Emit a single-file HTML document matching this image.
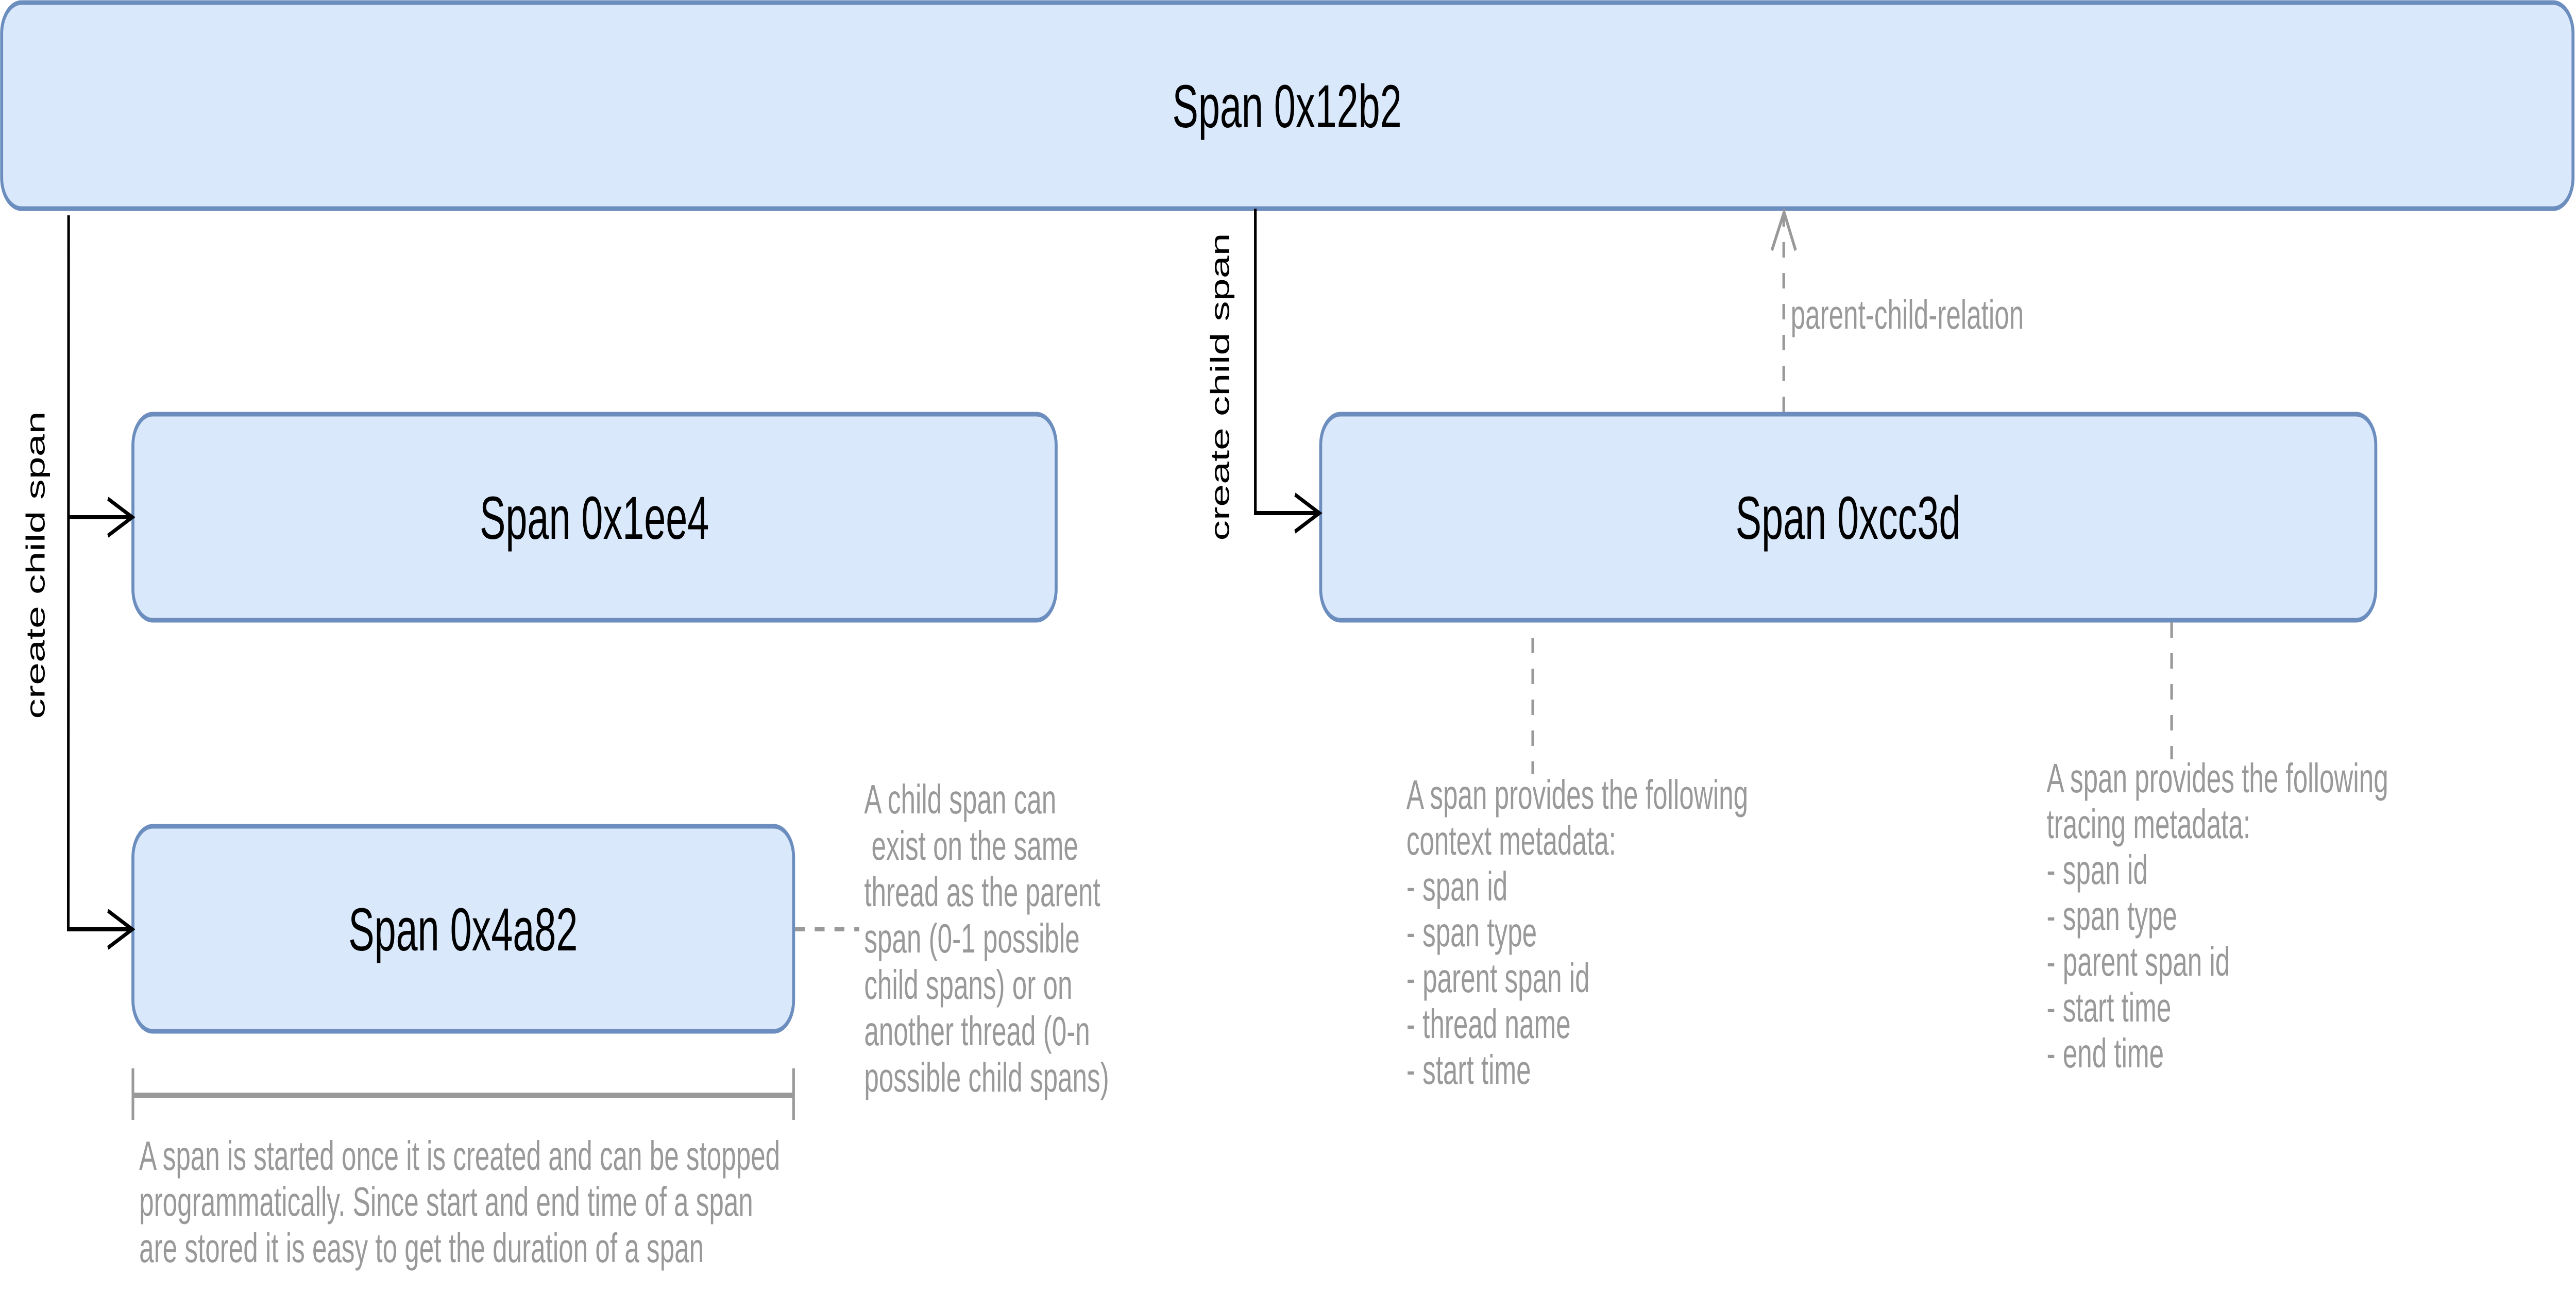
<!DOCTYPE html>
<html><head><meta charset="utf-8"><style>
html,body{margin:0;padding:0;background:#fff;width:100%;height:100%;overflow:hidden;}
svg{display:block;width:100vw;height:100vh;}
text{font-family:"Liberation Sans",Arial,sans-serif;}
.g{fill:#999999;font-size:80px;}
</style></head><body>
<svg viewBox="0 0 7810 2510" preserveAspectRatio="none" xmlns="http://www.w3.org/2000/svg">
<rect x="5" y="5" width="7796" height="400" rx="60" ry="60" fill="#dae8fc" stroke="#6c8ebf" stroke-width="9"/>
<rect x="403" y="804" width="2799" height="400" rx="60" ry="60" fill="#dae8fc" stroke="#6c8ebf" stroke-width="9"/>
<rect x="403" y="1604" width="2003" height="398" rx="60" ry="60" fill="#dae8fc" stroke="#6c8ebf" stroke-width="9"/>
<rect x="4004" y="804" width="3199" height="400" rx="60" ry="60" fill="#dae8fc" stroke="#6c8ebf" stroke-width="9"/>
<text x="3902" y="247" font-size="118" text-anchor="middle">Span 0x12b2</text>
<text x="1802" y="1046" font-size="118" text-anchor="middle">Span 0x1ee4</text>
<text x="1404" y="1845" font-size="118" text-anchor="middle">Span 0x4a82</text>
<text x="5603" y="1046" font-size="118" text-anchor="middle">Span 0xcc3d</text>

<g fill="none" stroke="#000" stroke-width="8">
<polyline points="208,418 207,1804 398,1804"/>
<line x1="207" y1="1004" x2="398" y2="1004"/>
<polyline points="327,968 401,1004 327,1040"/>
<polyline points="327,1768 401,1804 327,1840"/>
<polyline points="3806,405 3806,996 3998,996"/>
<polyline points="3926,960 4000,996 3926,1032"/>
</g>
<text transform="translate(135,1097) rotate(-90)" font-size="79" text-anchor="middle">create child span</text>
<text transform="translate(3726,751) rotate(-90)" font-size="79" text-anchor="middle">create child span</text>

<g fill="none" stroke="#999999" stroke-width="8">
<line x1="5408" y1="800" x2="5408" y2="420" stroke-dasharray="30 30"/>
<polyline points="5372,486 5409,412 5444,486"/>
<line x1="4647" y1="1238" x2="4647" y2="1503" stroke-dasharray="30 30"/>
<line x1="6584" y1="1208" x2="6584" y2="1474" stroke-dasharray="30 30"/>
<line x1="2410" y1="1804" x2="2605" y2="1804" stroke-dasharray="30 30"/>
<line x1="403" y1="2126" x2="2406" y2="2126" stroke-width="10"/>
<line x1="403" y1="2074" x2="403" y2="2174"/>
<line x1="2406" y1="2074" x2="2406" y2="2174"/>
</g>
<text class="g" x="5429" y="638">parent-child-relation</text>

<text class="g" xml:space="preserve">
<tspan x="2620" y="1579">A child span can</tspan>
<tspan x="2620" y="1669"> exist on the same</tspan>
<tspan x="2620" y="1759">thread as the parent</tspan>
<tspan x="2620" y="1849">span (0-1 possible</tspan>
<tspan x="2620" y="1939">child spans) or on</tspan>
<tspan x="2620" y="2029">another thread (0-n</tspan>
<tspan x="2620" y="2119">possible child spans)</tspan>
</text>

<text class="g">
<tspan x="422" y="2271">A span is started once it is created and can be stopped</tspan>
<tspan x="422" y="2360">programmatically. Since start and end time of a span</tspan>
<tspan x="422" y="2450">are stored it is easy to get the duration of a span</tspan>
</text>

<text class="g">
<tspan x="4264" y="1570">A span provides the following</tspan>
<tspan x="4264" y="1659">context metadata:</tspan>
<tspan x="4264" y="1748">- span id</tspan>
<tspan x="4264" y="1837">- span type</tspan>
<tspan x="4264" y="1926">- parent span id</tspan>
<tspan x="4264" y="2015">- thread name</tspan>
<tspan x="4264" y="2104">- start time</tspan>
</text>

<text class="g">
<tspan x="6205" y="1538">A span provides the following</tspan>
<tspan x="6205" y="1627">tracing metadata:</tspan>
<tspan x="6205" y="1716">- span id</tspan>
<tspan x="6205" y="1805">- span type</tspan>
<tspan x="6205" y="1894">- parent span id</tspan>
<tspan x="6205" y="1983">- start time</tspan>
<tspan x="6205" y="2072">- end time</tspan>
</text>
</svg>
</body></html>
